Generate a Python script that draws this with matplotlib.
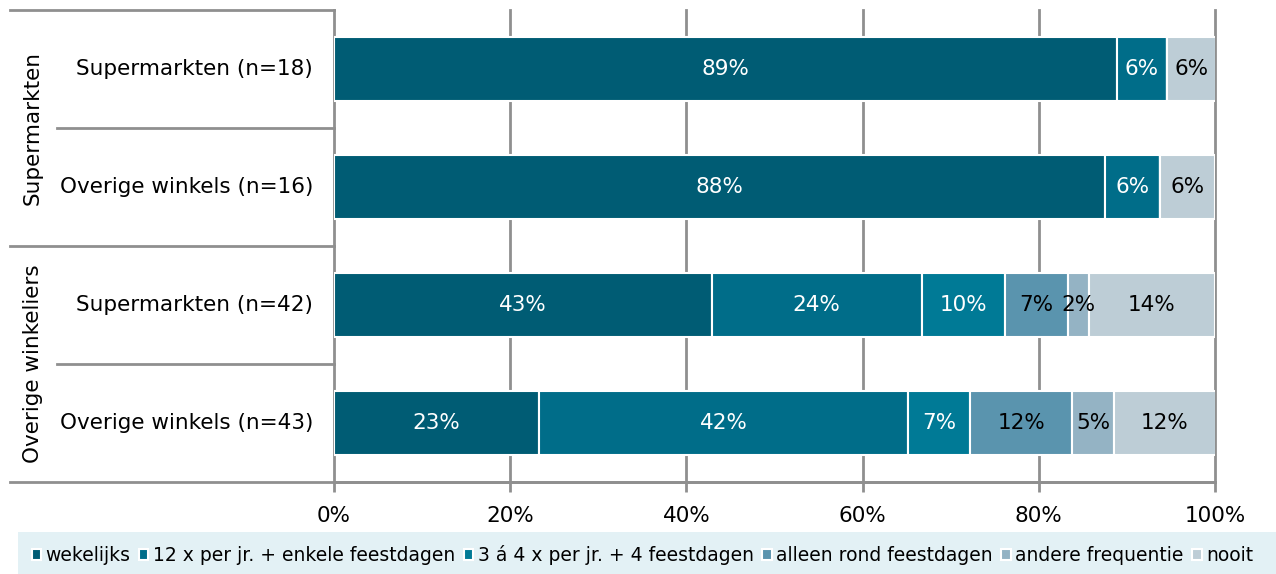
import matplotlib.pyplot as plt
from matplotlib.patches import Rectangle

rows = ["Supermarkten (n=18)", "Overige winkels (n=16)",
        "Supermarkten (n=42)", "Overige winkels (n=43)"]
groups = ["Supermarkten", "Overige winkeliers"]
series = ["wekelijks", "12 x per jr. + enkele feestdagen",
          "3 á 4 x per jr. + 4 feestdagen", "alleen rond feestdagen",
          "andere frequentie", "nooit"]

wekelijks = [88.9, 87.5, 42.9, 23.3]
twaalf = [5.6, 6.25, 23.8, 41.9]
drie_vier = [0, 0, 9.5, 7.0]
feestdagen = [0, 0, 7.1, 11.6]
andere = [0, 0, 2.4, 4.7]
nooit = [5.6, 6.25, 14.3, 11.6]
values = [wekelijks, twaalf, drie_vier, feestdagen, andere, nooit]

colors = ["#005c74", "#006d89", "#007a96", "#5a94ae", "#94b3c4", "#bdcdd6"]
text_colors = ["white", "white", "white", "black", "black", "black"]
grey = "#8f8f8f"
fs = 15.5

fig = plt.figure(figsize=(12.76, 5.74), dpi=100)
ax = fig.add_axes([334 / 1276, 1 - 482 / 574, 881 / 1276, 472 / 574])

y = list(range(len(rows)))
left = [0.0] * len(rows)
handles = []
for vals, col, tcol, name in zip(values, colors, text_colors, series):
    bars = ax.barh(y, vals, left=left, height=0.535, color=col,
                   edgecolor="white", linewidth=1.5, label=name, zorder=3)
    handles.append(bars)
    for yi, v, l in zip(y, vals, left):
        if v > 0:
            ax.text(l + v / 2, yi, f"{round(v)}%", ha="center", va="center",
                    color=tcol, fontsize=fs, zorder=4)
    left = [a + b for a, b in zip(left, vals)]

ax.set_xlim(0, 100)
ax.set_ylim(3.5, -0.5)
ax.set_yticks([])
ax.set_xticks([0, 20, 40, 60, 80, 100])
ax.set_xticklabels(["0%", "20%", "40%", "60%", "80%", "100%"], fontsize=fs)
ax.tick_params(axis="x", length=7, width=2, color=grey, pad=10)
for x in [20, 40, 60, 80, 100]:
    ax.axvline(x, color=grey, linewidth=2, zorder=1, clip_on=False)

for s in ["top", "right"]:
    ax.spines[s].set_visible(False)
for s in ["left", "bottom"]:
    ax.spines[s].set_color(grey)
    ax.spines[s].set_linewidth(2)

# category table on the left
x_far = (10 - 334) / 881
x_mid = (57 - 334) / 881
ax.plot([x_far, 1.0], [0, 0], transform=ax.transAxes, color=grey, lw=2, clip_on=False)
for yy, x0 in [(1.0, x_far), (0.75, x_mid), (0.5, x_far), (0.25, x_mid)]:
    ax.plot([x0, 0], [yy, yy], transform=ax.transAxes, color=grey, lw=2, clip_on=False)

for yi, lab in zip(y, rows):
    ax.text(-21 / 881, 1 - (yi + 0.5) / 4, lab, transform=ax.transAxes,
            ha="right", va="center", fontsize=fs)
for gi, g in enumerate(groups):
    ax.text((33 - 334) / 881, 0.75 - gi * 0.5, g, transform=ax.transAxes,
            rotation=90, ha="center", va="center", fontsize=fs)

# legend band
fig.patches.append(Rectangle((18 / 1276, 0), 1, 42 / 574, transform=fig.transFigure,
                             facecolor="#e3f1f5", edgecolor="none", zorder=0))
fig.legend(handles=handles, loc="center left", bbox_to_anchor=(24 / 1276, 19 / 574),
           ncol=6, frameon=False, fontsize=13.5, handlelength=0.5, handleheight=0.5,
           handletextpad=0.25, columnspacing=0.45, borderaxespad=0)

fig.savefig("out.png", dpi=100)
